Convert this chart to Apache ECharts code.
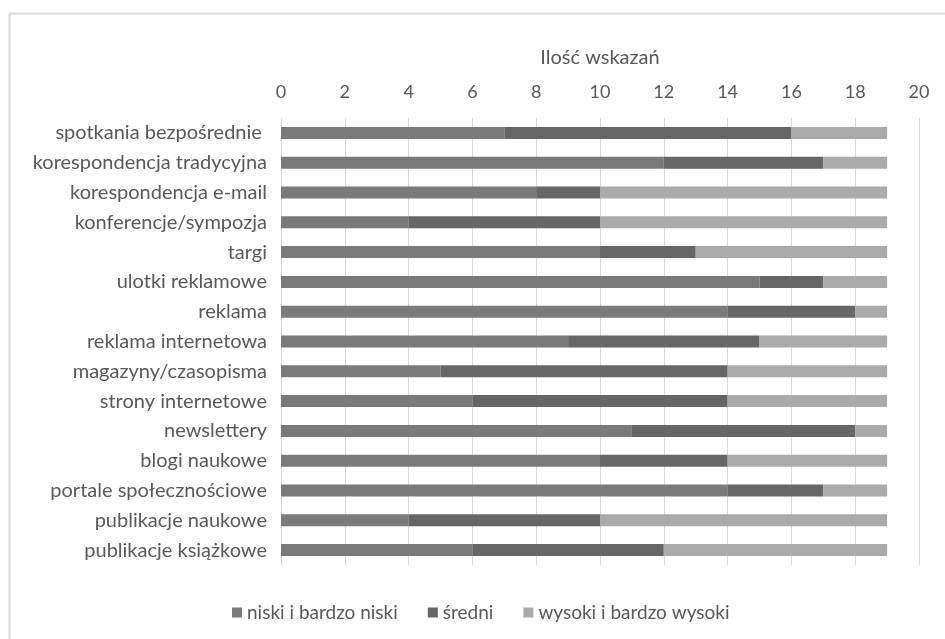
<!DOCTYPE html>
<html>
<head>
<meta charset="utf-8">
<script src="https://cdn.jsdelivr.net/npm/echarts@6/dist/echarts.min.js"></script>
<style>
  html, body { margin: 0; padding: 0; background: #fff; }
  #main { width: 945px; height: 639px; }
</style>
</head>
<body>
<div id="main"></div>
<script>
// kategorie (od góry)
const categories = [
  'spotkania bezpośrednie ',
  'korespondencja tradycyjna',
  'korespondencja e-mail',
  'konferencje/sympozja',
  'targi',
  'ulotki reklamowe',
  'reklama',
  'reklama internetowa',
  'magazyny/czasopisma',
  'strony internetowe',
  'newslettery',
  'blogi naukowe',
  'portale społecznościowe',
  'publikacje naukowe',
  'publikacje książkowe'
]
const niski = [7, 12, 8, 4, 10, 15, 14, 9, 5, 6, 11, 10, 14, 4, 6]
const sredni = [9, 5, 2, 6, 3, 2, 4, 6, 9, 8, 7, 4, 3, 6, 6]
const wysoki = [3, 2, 9, 9, 6, 2, 1, 4, 5, 5, 1, 5, 2, 9, 7]
const seriesNames = ['niski i bardzo niski', 'średni', 'wysoki i bardzo wysoki']
const xTicks = { min: 0, max: 20, interval: 2 }

const font = 'Lato, "Noto Sans", sans-serif'
const chart = echarts.init(document.getElementById('main'))

function makeSeries (name, data, color) {
  return {
    name: name,
    type: 'bar',
    stack: 'total',
    barWidth: 12,
    itemStyle: { color: color },
    data: data
  }
}

chart.setOption({
  animation: false,
  textStyle: { fontFamily: font },
  graphic: [
    {
      type: 'rect',
      shape: { x: 9.5, y: 13.5, width: 960, height: 700 },
      style: { fill: 'none', stroke: '#d9d9d9', lineWidth: 2 },
      silent: true
    }
  ],
  grid: {
    left: 281,
    right: 26,
    top: 118,
    bottom: 74
  },
  legend: {
    top: 598,
    left: 227,
    itemWidth: 10,
    itemHeight: 10,
    itemGap: 30,
    icon: 'rect',
    textStyle: { color: '#595959', fontSize: 19, fontFamily: font },
    data: seriesNames
  },
  xAxis: {
    type: 'value',
    position: 'top',
    min: xTicks.min,
    max: xTicks.max,
    interval: xTicks.interval,
    name: 'Ilość wskazań',
    nameLocation: 'middle',
    nameGap: 50,
    nameTextStyle: { color: '#595959', fontSize: 20, fontFamily: font },
    axisLine: { show: false },
    axisTick: { show: false },
    axisLabel: { color: '#595959', fontSize: 18, margin: 17, fontFamily: font },
    splitLine: { show: true, lineStyle: { color: '#d9d9d9', width: 1 } }
  },
  yAxis: {
    type: 'category',
    inverse: true,
    data: categories,
    axisLine: { show: false },
    axisTick: { show: false },
    axisLabel: { color: '#595959', fontSize: 20, margin: 14, fontFamily: font }
  },
  series: [
    makeSeries(seriesNames[0], niski, '#7a7a7a'),
    makeSeries(seriesNames[1], sredni, '#666666'),
    makeSeries(seriesNames[2], wysoki, '#aaaaaa')
  ]
})
</script>
</body>
</html>
